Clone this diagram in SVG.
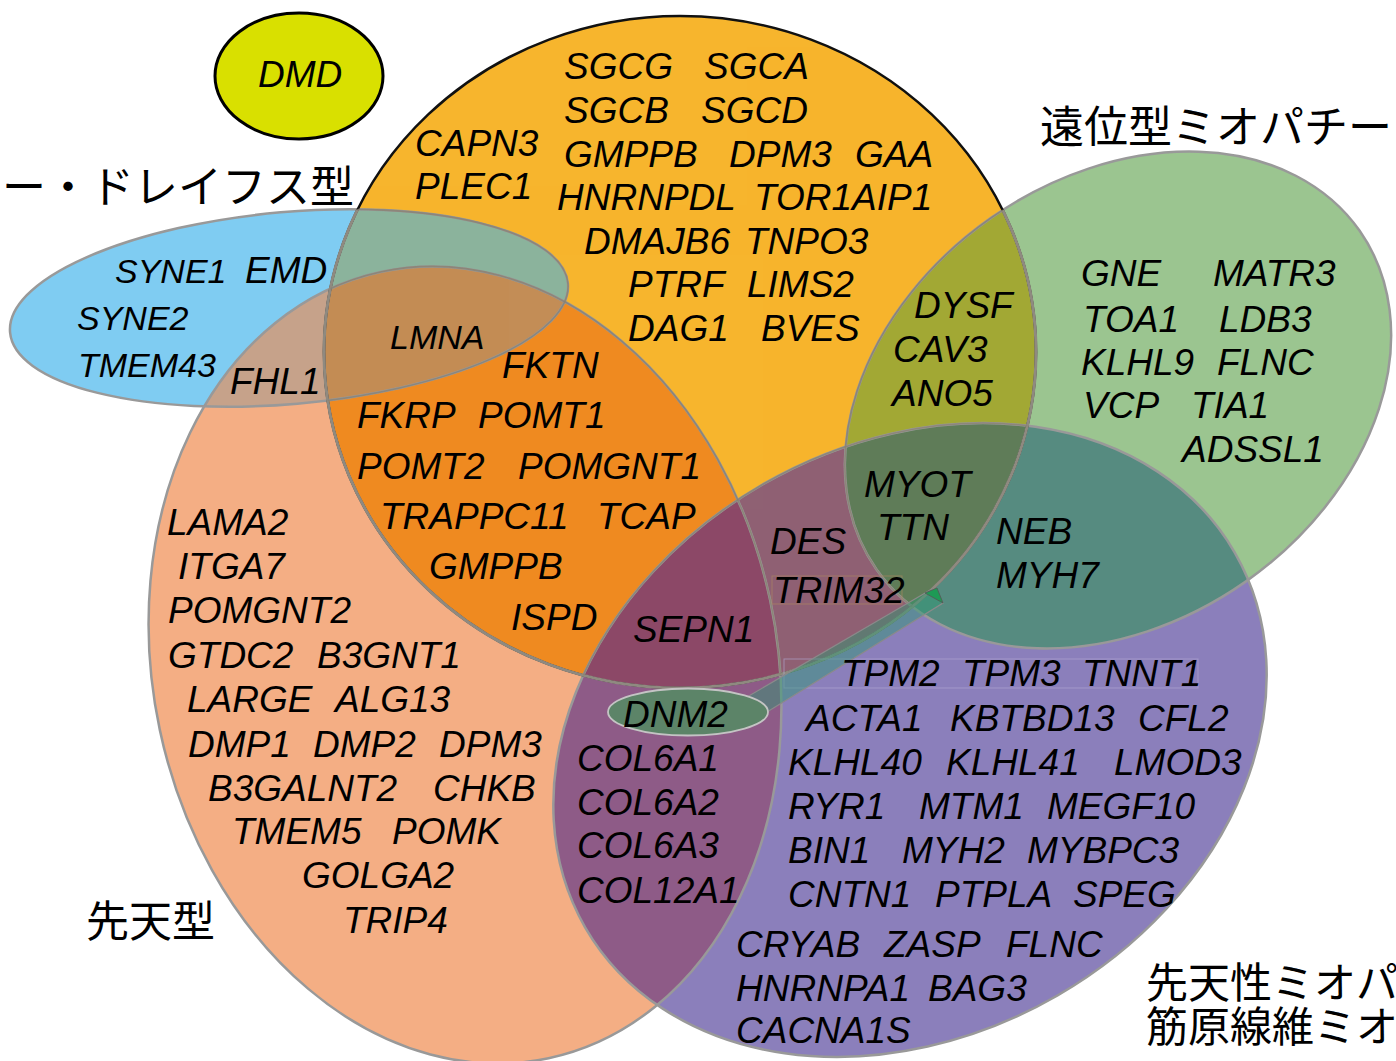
<svg xmlns="http://www.w3.org/2000/svg" xmlns:xlink="http://www.w3.org/1999/xlink" width="1396" height="1061" viewBox="0 0 1396 1061">
<style>
.g{font-family:"Liberation Sans",Arial,sans-serif;font-style:italic;font-size:37px;fill:#000}
.s{font-size:34px}
.j{font-family:"Noto Sans CJK JP","Noto Sans CJK SC",sans-serif;fill:#000}
.ol{fill:none;stroke:#999;stroke-width:2.5}
.il{fill:none;stroke:#8a8070;stroke-width:1.6;opacity:0.75}
</style>
<defs>
<ellipse id="eY" cx="0" cy="0" rx="356" ry="336" transform="translate(680,352)"/>
<ellipse id="eG" cx="0" cy="0" rx="295" ry="222" transform="translate(1118,400) rotate(-35)"/>
<ellipse id="eP" cx="0" cy="0" rx="375" ry="295" transform="translate(910,740) rotate(-30)"/>
<ellipse id="eS" cx="0" cy="0" rx="312" ry="402" transform="translate(465,665) rotate(-12)"/>
<ellipse id="eB" cx="0" cy="0" rx="280" ry="96" transform="translate(289,308) rotate(-5)"/>
<clipPath id="cY"><ellipse cx="0" cy="0" rx="356" ry="336" transform="translate(680,352)"/></clipPath>
<clipPath id="cG"><ellipse cx="0" cy="0" rx="295" ry="222" transform="translate(1118,400) rotate(-35)"/></clipPath>
<clipPath id="cP"><ellipse cx="0" cy="0" rx="375" ry="295" transform="translate(910,740) rotate(-30)"/></clipPath>
<clipPath id="cS"><ellipse cx="0" cy="0" rx="312" ry="402" transform="translate(465,665) rotate(-12)"/></clipPath>
<clipPath id="cB"><ellipse cx="0" cy="0" rx="280" ry="96" transform="translate(289,308) rotate(-5)"/></clipPath>
<clipPath id="cOther">
<ellipse cx="0" cy="0" rx="295" ry="222" transform="translate(1118,400) rotate(-35)"/>
<ellipse cx="0" cy="0" rx="375" ry="295" transform="translate(910,740) rotate(-30)"/>
<ellipse cx="0" cy="0" rx="312" ry="402" transform="translate(465,665) rotate(-12)"/>
<ellipse cx="0" cy="0" rx="280" ry="96" transform="translate(289,308) rotate(-5)"/>
</clipPath>
</defs>

<rect width="1396" height="1061" fill="#fff"/>

<g id="sets">
<use xlink:href="#eS" fill="#F4AE84"/>
<use xlink:href="#eY" fill="#F7B52D"/>
<use xlink:href="#eG" fill="#9BC590"/>
<use xlink:href="#eP" fill="#8B7FBB"/>
<use xlink:href="#eB" fill="#7FCCF2"/>
<g clip-path="url(#cB)"><use xlink:href="#eY" fill="#8BB39C"/><use xlink:href="#eS" fill="#C6A28A"/></g>
<g clip-path="url(#cY)"><use xlink:href="#eS" fill="#EF8A20"/><use xlink:href="#eG" fill="#A2A935"/><use xlink:href="#eP" fill="#8F6173"/></g>
<g clip-path="url(#cG)"><use xlink:href="#eP" fill="#568B80"/></g>
<g clip-path="url(#cS)"><use xlink:href="#eP" fill="#8E5B87"/></g>
<g clip-path="url(#cB)"><g clip-path="url(#cY)"><use xlink:href="#eS" fill="#C38D56"/></g></g>
<g clip-path="url(#cY)"><g clip-path="url(#cG)"><use xlink:href="#eP" fill="#5F7E5A"/></g></g>
<g clip-path="url(#cY)"><g clip-path="url(#cS)"><use xlink:href="#eP" fill="#8D4A67"/></g></g>
</g>

<g id="outlines">
<use xlink:href="#eS" class="ol"/>
<use xlink:href="#eG" class="ol"/>
<use xlink:href="#eP" class="ol"/>
<use xlink:href="#eB" class="ol"/>
<use xlink:href="#eY" fill="none" stroke="#111" stroke-width="2.5"/>
<use xlink:href="#eY" fill="none" stroke="#8f8a80" stroke-width="3" clip-path="url(#cOther)"/>
<g clip-path="url(#cY)"><use xlink:href="#eS" class="il"/><use xlink:href="#eG" class="il"/><use xlink:href="#eP" class="il"/><use xlink:href="#eB" class="il"/></g>
</g>

<g id="node-dmd">
<ellipse cx="299" cy="76" rx="84" ry="63" fill="#D9E000" stroke="#000" stroke-width="3"/>
<text class="g" x="258" y="87">DMD</text>
</g>

<g id="textboxes" fill="none" stroke-width="1">
<rect x="772" y="576" width="130" height="28" stroke="#b08a60" opacity="0.6"/>
<rect x="784" y="659" width="414" height="29" stroke="#b4acd6" opacity="0.6"/>
</g>

<g id="connectors">
<polygon points="747,697 932,589 943,603 767,712" fill="#2a9a70" fill-opacity="0.45" stroke="#8a8a8a" stroke-width="1.2"/>
<polygon points="925,593 937,588 943,603" fill="#1e9a55" stroke="#555" stroke-width="0.8"/>
<polygon points="745,699 766,711 754,719" fill="#1e9a55" stroke="#555" stroke-width="0.8"/>
</g>

<g id="node-dnm2">
<ellipse cx="688" cy="712" rx="80" ry="23.5" fill="#5C8468" stroke="#c4c4c4" stroke-width="1.8"/>
<text class="g" x="623" y="727">DNM2</text>
</g>

<g id="node-lgmd">
<text class="g" y="79"><tspan x="564">SGCG</tspan><tspan x="704">SGCA</tspan></text>
<text class="g" y="123"><tspan x="564">SGCB</tspan><tspan x="701">SGCD</tspan></text>
<text class="g" y="167"><tspan x="564">GMPPB</tspan><tspan x="729">DPM3</tspan><tspan x="855">GAA</tspan></text>
<text class="g" y="210"><tspan x="557">HNRNPDL</tspan><tspan x="754">TOR1AIP1</tspan></text>
<text class="g" y="254"><tspan x="584">DMAJB6</tspan><tspan x="745">TNPO3</tspan></text>
<text class="g" y="297"><tspan x="628">PTRF</tspan><tspan x="747">LIMS2</tspan></text>
<text class="g" y="341"><tspan x="628">DAG1</tspan><tspan x="761">BVES</tspan></text>
<text class="g" x="415" y="156">CAPN3</text>
<text class="g" x="415" y="199">PLEC1</text>
</g>

<g id="node-emery">
<text class="g s" x="115" y="283">SYNE1</text>
<text class="g" x="245" y="283">EMD</text>
<text class="g s" x="77" y="330">SYNE2</text>
<text class="g s" x="78" y="377">TMEM43</text>
<text class="g" x="230" y="394">FHL1</text>
<text class="g s" x="390" y="349">LMNA</text>
</g>

<g id="node-overlap-orange">
<text class="g" x="502" y="378">FKTN</text>
<text class="g" y="428"><tspan x="357">FKRP</tspan><tspan x="478">POMT1</tspan></text>
<text class="g" y="479"><tspan x="357">POMT2</tspan><tspan x="518">POMGNT1</tspan></text>
<text class="g" y="529"><tspan x="380">TRAPPC11</tspan><tspan x="597">TCAP</tspan></text>
<text class="g" x="429" y="579">GMPPB</text>
<text class="g" x="511" y="630">ISPD</text>
<text class="g" x="633" y="642">SEPN1</text>
</g>

<g id="node-congenital">
<text class="g" x="167" y="535">LAMA2</text>
<text class="g" x="178" y="579">ITGA7</text>
<text class="g" x="168" y="623">POMGNT2</text>
<text class="g" y="668"><tspan x="168">GTDC2</tspan><tspan x="317">B3GNT1</tspan></text>
<text class="g" y="712"><tspan x="187">LARGE</tspan><tspan x="335">ALG13</tspan></text>
<text class="g" y="757"><tspan x="188">DMP1</tspan><tspan x="313">DMP2</tspan><tspan x="439">DPM3</tspan></text>
<text class="g" y="801"><tspan x="208">B3GALNT2</tspan><tspan x="433">CHKB</tspan></text>
<text class="g" y="844"><tspan x="232">TMEM5</tspan><tspan x="392">POMK</tspan></text>
<text class="g" x="302" y="888">GOLGA2</text>
<text class="g" x="343" y="933">TRIP4</text>
</g>

<g id="node-distal">
<text class="g" x="914" y="318">DYSF</text>
<text class="g" x="893" y="362">CAV3</text>
<text class="g" x="892" y="406">ANO5</text>
<text class="g" y="286"><tspan x="1081">GNE</tspan><tspan x="1213">MATR3</tspan></text>
<text class="g" y="332"><tspan x="1083">TOA1</tspan><tspan x="1219">LDB3</tspan></text>
<text class="g" y="375"><tspan x="1081">KLHL9</tspan><tspan x="1217">FLNC</tspan></text>
<text class="g" y="418"><tspan x="1083">VCP</tspan><tspan x="1191">TIA1</tspan></text>
<text class="g" x="1182" y="462">ADSSL1</text>
<text class="g" x="864" y="497">MYOT</text>
<text class="g" x="877" y="540">TTN</text>
<text class="g" x="996" y="544">NEB</text>
<text class="g" x="996" y="588">MYH7</text>
</g>

<g id="node-myopathy">
<text class="g" x="770" y="554">DES</text>
<text class="g" x="773" y="603">TRIM32</text>
<text class="g" y="686"><tspan x="841">TPM2</tspan><tspan x="962">TPM3</tspan><tspan x="1082">TNNT1</tspan></text>
<text class="g" y="731"><tspan x="806">ACTA1</tspan><tspan x="950">KBTBD13</tspan><tspan x="1138">CFL2</tspan></text>
<text class="g" y="775"><tspan x="788">KLHL40</tspan><tspan x="946">KLHL41</tspan><tspan x="1114">LMOD3</tspan></text>
<text class="g" y="819"><tspan x="788">RYR1</tspan><tspan x="919">MTM1</tspan><tspan x="1047">MEGF10</tspan></text>
<text class="g" y="863"><tspan x="788">BIN1</tspan><tspan x="902">MYH2</tspan><tspan x="1027">MYBPC3</tspan></text>
<text class="g" y="907"><tspan x="788">CNTN1</tspan><tspan x="935">PTPLA</tspan><tspan x="1073">SPEG</tspan></text>
<text class="g" y="957"><tspan x="736">CRYAB</tspan><tspan x="884">ZASP</tspan><tspan x="1006">FLNC</tspan></text>
<text class="g" y="1001"><tspan x="736">HNRNPA1</tspan><tspan x="928">BAG3</tspan></text>
<text class="g" x="736" y="1043">CACNA1S</text>
<text class="g" x="577" y="771">COL6A1</text>
<text class="g" x="577" y="815">COL6A2</text>
<text class="g" x="577" y="858">COL6A3</text>
<text class="g" x="577" y="903">COL12A1</text>
</g>

<g id="labels">
<text class="j" x="2" y="203" font-size="44">ー・ドレイフス型</text>
<text class="j" x="1040" y="143" font-size="44">遠位型ミオパチー</text>
<text class="j" x="86" y="937" font-size="43">先天型</text>
<text class="j" font-size="42"><tspan x="1146" y="998">先天性ミオパ</tspan><tspan x="1146" y="1042">筋原線維ミオ</tspan></text>
</g>
</svg>
